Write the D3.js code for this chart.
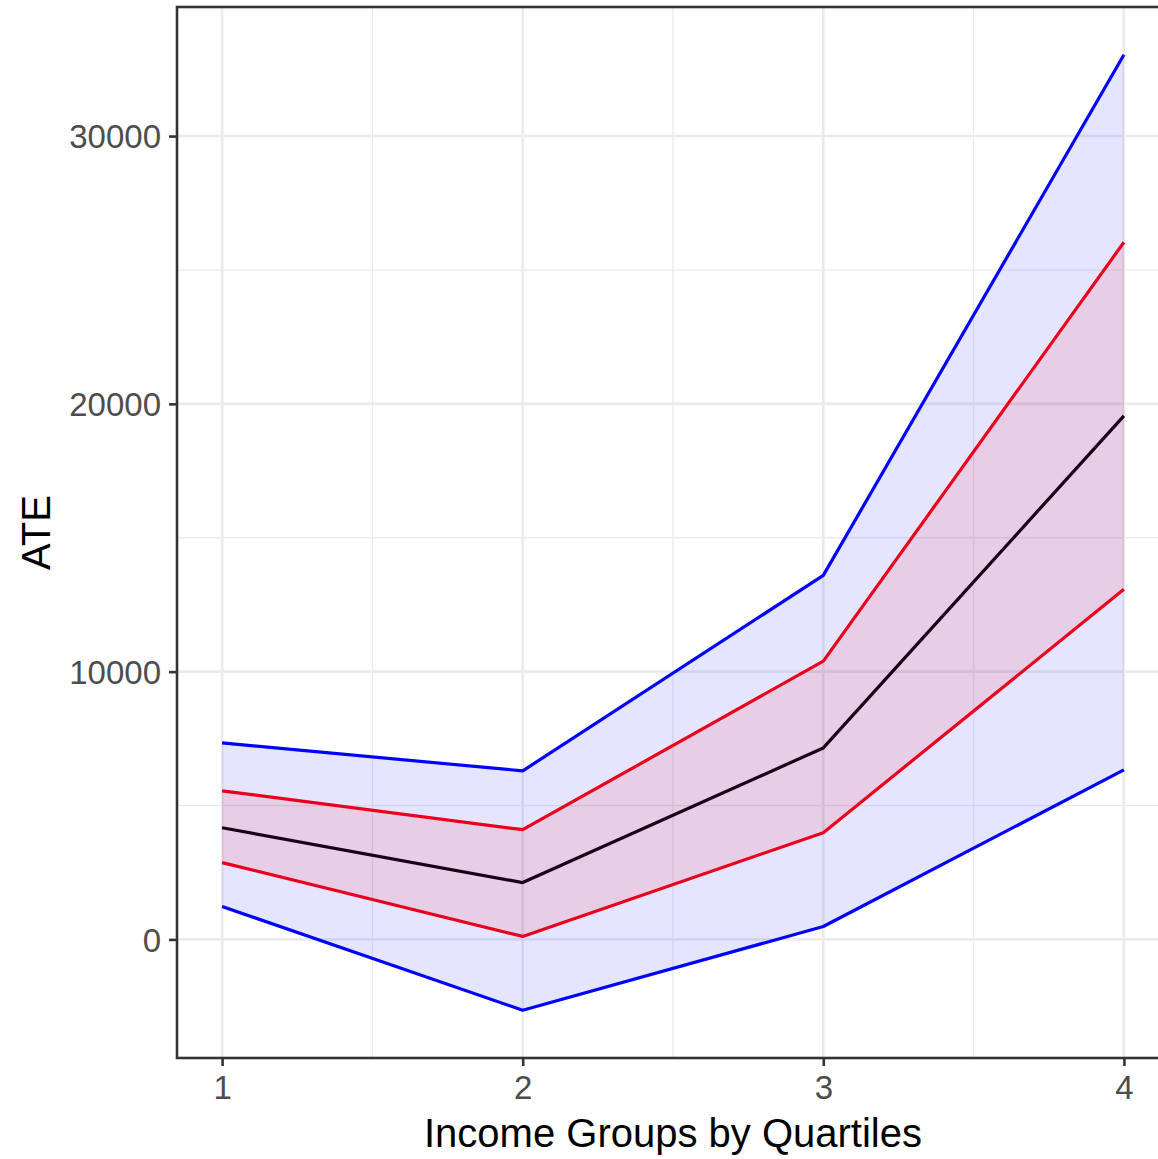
<!DOCTYPE html>
<html>
<head>
<meta charset="utf-8">
<script src="https://cdn.jsdelivr.net/npm/d3@7"></script>
<style>
  body { margin: 0; background: #fff; }
  text { font-family: "Liberation Sans", Arial, sans-serif; }
</style>
</head>
<body>
<div id="chart"></div>
<script>
const SVG_WIDTH = 1158;
const SVG_HEIGHT = 1159;
const PANEL = { left: 177, right: 1169, top: 7, bottom: 1058 };

const quartiles = [1, 2, 3, 4];
const blueUpper = [7337, 6294, 13594, 33035];
const redUpper = [5549, 4097, 10391, 26034];
const ate = [4171, 2123, 7151, 19553];
const redLower = [2868, 112, 3985, 13073];
const blueLower = [1229, -2644, 484, 6331];

const yTicks = [0, 10000, 20000, 30000];
const yMinor = [5000, 15000, 25000];
const xMinor = [1.5, 2.5, 3.5];

const svg = d3.select("#chart").append("svg")
    .attr("width", SVG_WIDTH)
    .attr("height", SVG_HEIGHT);

// ggplot-style 5% expansion on y, 0.15 units on x
const yMin = d3.min(blueLower), yMax = d3.max(blueUpper);
const pad = (yMax - yMin) * 0.05;

const x = d3.scaleLinear()
    .domain([0.85, 4.15])
    .range([PANEL.left, PANEL.right]);

const y = d3.scaleLinear()
    .domain([yMin - pad, yMax + pad])
    .range([PANEL.bottom, PANEL.top]);

const grid = svg.append("g");
grid.selectAll(".ymin").data(yMinor).enter().append("line")
    .attr("x1", PANEL.left).attr("x2", PANEL.right)
    .attr("y1", d => y(d)).attr("y2", d => y(d))
    .attr("stroke", "#ebebeb").attr("stroke-width", 1.3);
grid.selectAll(".xmin").data(xMinor).enter().append("line")
    .attr("y1", PANEL.top).attr("y2", PANEL.bottom)
    .attr("x1", d => x(d)).attr("x2", d => x(d))
    .attr("stroke", "#ebebeb").attr("stroke-width", 1.3);
grid.selectAll(".ymaj").data(yTicks).enter().append("line")
    .attr("x1", PANEL.left).attr("x2", PANEL.right)
    .attr("y1", d => y(d)).attr("y2", d => y(d))
    .attr("stroke", "#ebebeb").attr("stroke-width", 2.6);
grid.selectAll(".xmaj").data(quartiles).enter().append("line")
    .attr("y1", PANEL.top).attr("y2", PANEL.bottom)
    .attr("x1", d => x(d)).attr("x2", d => x(d))
    .attr("stroke", "#ebebeb").attr("stroke-width", 2.6);

const lineGen = vals => d3.line()
    .x((d, i) => x(quartiles[i]))
    .y(d => y(d))(vals);

const areaGen = (lo, hi) => d3.area()
    .x((d, i) => x(quartiles[i]))
    .y0((d, i) => y(lo[i]))
    .y1((d, i) => y(hi[i]))(lo);

svg.append("path")
    .attr("d", areaGen(blueLower, blueUpper))
    .attr("fill", "#0000ff").attr("fill-opacity", 0.1);
svg.append("path")
    .attr("d", areaGen(redLower, redUpper))
    .attr("fill", "#ff0000").attr("fill-opacity", 0.1);

const series = [
    { vals: blueUpper, color: "#0000ff" },
    { vals: blueLower, color: "#0000ff" },
    { vals: redUpper, color: "#e8001c" },
    { vals: redLower, color: "#e8001c" },
    { vals: ate, color: "#18001a" }
];

svg.append("g").selectAll("path").data(series).enter().append("path")
    .attr("d", d => lineGen(d.vals))
    .attr("fill", "none")
    .attr("stroke", d => d.color)
    .attr("stroke-width", 3.2)
    .attr("stroke-linejoin", "round");

// panel border
svg.append("rect")
    .attr("x", PANEL.left).attr("y", PANEL.top)
    .attr("width", PANEL.right - PANEL.left)
    .attr("height", PANEL.bottom - PANEL.top)
    .attr("fill", "none").attr("stroke", "#333").attr("stroke-width", 2.6);

const xAxis = svg.append("g")
    .attr("transform", `translate(0,${PANEL.bottom})`)
    .call(d3.axisBottom(x).tickValues(quartiles).tickFormat(d3.format("d")).tickSizeInner(8).tickSizeOuter(0).tickPadding(10));
xAxis.select(".domain").remove();

const yAxis = svg.append("g")
    .attr("transform", `translate(${PANEL.left},0)`)
    .call(d3.axisLeft(y).tickValues(yTicks).tickFormat(d3.format("d")).tickSizeInner(8).tickSizeOuter(0).tickPadding(8));
yAxis.select(".domain").remove();

svg.selectAll(".tick line").attr("stroke", "#333").attr("stroke-width", 2.6);
svg.selectAll(".tick text")
    .attr("fill", "#4d4d4d")
    .style("font-size", "33px")
    .style("font-family", "'Liberation Sans', Arial, sans-serif");
yAxis.selectAll(".tick text").attr("dy", "0.36em");

svg.append("text")
    .attr("x", (PANEL.left + PANEL.right) / 2)
    .attr("y", 1147)
    .attr("text-anchor", "middle")
    .style("font-size", "40px")
    .text("Income Groups by Quartiles");

svg.append("text")
    .attr("transform", `translate(50,${(PANEL.top + PANEL.bottom) / 2}) rotate(-90)`)
    .attr("text-anchor", "middle")
    .style("font-size", "40px")
    .text("ATE");
</script>
</body>
</html>
